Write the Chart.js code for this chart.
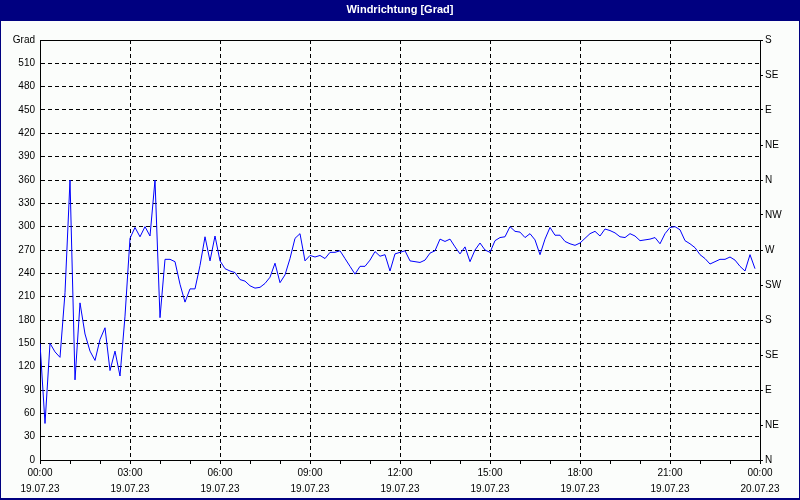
<!DOCTYPE html>
<html>
<head>
<meta charset="utf-8">
<script src="https://cdn.jsdelivr.net/npm/chart.js@4"></script>
<style>
html,body{margin:0;padding:0;background:#fff;}
#wrap{width:800px;height:500px;}
</style>
</head>
<body>
<div id="wrap"><canvas id="c" width="800" height="500"></canvas></div>
<script>
// sample interval in minutes and series values (Windrichtung in Grad, every 10 min from 00:00)
const sampleMinutes = 10;
const windDirection = [
150,47,150,139,132,215,360,103,202,162,140,128,155,170,115,140,108,185,285,299,
287,300,288,360,183,258,258,255,226,203,220,220,250,287,256,288,256,246,243,241,
232,230,224,221,222,227,235,253,228,238,259,285,291,256,263,261,263,259,267,267,
269,259,249,239,249,249,257,268,262,264,243,265,267,269,256,255,254,257,266,269,
284,281,284,274,265,274,255,270,279,270,267,282,286,287,300,294,293,286,291,283,
264,284,299,289,289,281,278,276,279,285,291,294,288,297,295,292,287,286,291,288,
282,283,284,286,278,291,299,300,296,282,278,273,264,259,252,255,258,258,261,257,
249,243,264,246
];
const timeLabels = ['00:00','03:00','06:00','09:00','12:00','15:00','18:00','21:00','00:00'];
const dateLabels = ['19.07.23','19.07.23','19.07.23','19.07.23','19.07.23','19.07.23','19.07.23','19.07.23','20.07.23'];
const directionLabels = ['N','NE','E','SE','S','SW','W','NW','N','NE','E','SE','S'];
const topLabel = 'Grad';
const titleText = 'Windrichtung [Grad]';

const points = windDirection.map((v, i) => ({x: i * sampleMinutes, y: v}));

const FONT = 'Liberation Sans';
const navy = '#000080';
const bg = '#FBFDFB';

const frame = {
  id: 'frame',
  beforeDraw(chart) {
    const ctx = chart.ctx;
    ctx.save();
    ctx.fillStyle = bg;
    ctx.fillRect(0, 0, 800, 500);
    ctx.fillStyle = navy;
    ctx.fillRect(0, 0, 800, 21);
    ctx.strokeStyle = navy;
    ctx.lineWidth = 2;
    ctx.strokeRect(0, 0, 800, 499);
    ctx.restore();
  },
  beforeDatasetsDraw(chart) {
    const a = chart.chartArea;
    const ctx = chart.ctx;
    ctx.save();
    ctx.strokeStyle = '#000';
    ctx.lineWidth = 1;
    ctx.beginPath();
    ctx.moveTo(a.left, Math.round(a.top) + 0.5);
    ctx.lineTo(a.right, Math.round(a.top) + 0.5);
    ctx.stroke();
    ctx.restore();
  }
};

new Chart(document.getElementById('c'), {
  type: 'line',
  data: {
    datasets: [{
      data: points,
      borderColor: '#0000FF',
      borderWidth: 1,
      pointRadius: 0,
      tension: 0,
      fill: false
    }]
  },
  options: {
    responsive: false,
    animation: false,
    devicePixelRatio: 1,
    layout: {padding: 0},
    plugins: {
      legend: {display: false},
      tooltip: {enabled: false},
      title: {
        display: true,
        text: titleText,
        color: '#FFFFFF',
        font: {family: FONT, size: 11, weight: 'bold', lineHeight: '12px'},
        padding: {top: 4, bottom: 24}
      }
    },
    scales: {
      x: {
        type: 'linear',
        position: 'bottom',
        min: 0,
        max: 1440,
        afterFit(s) { s.height = 40; },
        ticks: {
          stepSize: 60,
          autoSkip: false,
          maxRotation: 0,
          minRotation: 0,
          padding: 1,
          color: '#000',
          font: {family: FONT, size: 10, lineHeight: '16px'},
          callback(v) {
            if (v % 180 === 0) {
              const k = v / 180;
              return [timeLabels[k], dateLabels[k]];
            }
            return '';
          }
        },
        grid: {
          color: (c) => (c.tick && c.tick.value % 180 === 0) ? '#000' : 'rgba(0,0,0,0)',
          tickColor: '#000',
          tickLength: 4,
          lineWidth: 1
        },
        border: {display: true, color: '#000', width: 1, dash: [4, 3]}
      },
      y: {
        type: 'linear',
        position: 'left',
        min: 0,
        max: 540,
        afterFit(s) { s.width = 40; },
        ticks: {
          stepSize: 30,
          padding: 5,
          color: '#000',
          font: {family: FONT, size: 10},
          callback(v) { return v === 540 ? topLabel : String(v); }
        },
        grid: {
          color: '#000',
          drawTicks: false,
          lineWidth: 1
        },
        border: {display: true, color: '#000', width: 1, dash: [4, 3]}
      },
      yDir: {
        type: 'linear',
        position: 'right',
        min: 0,
        max: 540,
        afterFit(s) { s.width = 40; },
        ticks: {
          stepSize: 45,
          padding: 2,
          color: '#000',
          font: {family: FONT, size: 10},
          callback(v) { return directionLabels[Math.round(v / 45)]; }
        },
        grid: {
          drawOnChartArea: false,
          drawTicks: true,
          tickLength: 3,
          tickColor: '#000'
        },
        border: {display: true, color: '#000', width: 1}
      }
    }
  },
  plugins: [frame]
});
</script>
</body>
</html>
